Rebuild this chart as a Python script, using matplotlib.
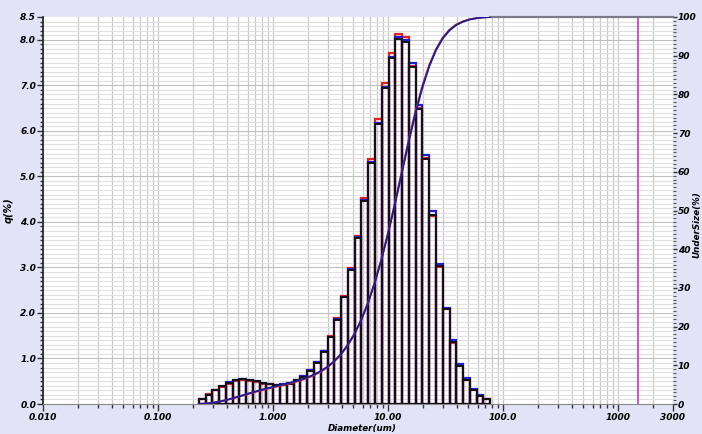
import numpy as np
import matplotlib
matplotlib.use("Agg")
import matplotlib.pyplot as plt
from matplotlib.ticker import FixedLocator, MultipleLocator, NullFormatter

# bin edges (um) and q(%) for the three runs
edges = [0.226, 0.259, 0.296, 0.339, 0.389, 0.445, 0.510, 0.584, 0.669, 0.766,
         0.877, 1.005, 1.151, 1.318, 1.510, 1.729, 1.981, 2.269, 2.599, 2.976,
         3.409, 3.905, 4.472, 5.122, 5.867, 6.720, 7.697, 8.816, 10.097, 11.565,
         13.246, 15.172, 17.377, 19.904, 22.797, 26.111, 29.907, 34.255, 39.234,
         44.938, 51.471, 58.953, 67.523, 77.339]

q_black = [0.10, 0.20, 0.30, 0.39, 0.47, 0.52, 0.54, 0.53, 0.50, 0.47, 0.44,
           0.42, 0.42, 0.45, 0.52, 0.60, 0.73, 0.91, 1.15, 1.47, 1.85, 2.34,
           2.95, 3.64, 4.45, 5.30, 6.15, 6.95,
           7.60, 8.02, 7.96, 7.41, 6.48, 5.38, 4.15, 3.03, 2.08, 1.36, 0.84,
           0.53, 0.31, 0.18, 0.10]
q_red = [0.10, 0.21, 0.31, 0.38, 0.45, 0.50, 0.52, 0.51, 0.48, 0.45, 0.43,
         0.41, 0.42, 0.45, 0.53, 0.61, 0.74, 0.93, 1.17, 1.49, 1.88, 2.37,
         2.99, 3.70, 4.52, 5.38, 6.25, 7.05,
         7.72, 8.12, 8.07, 7.43, 6.50, 5.40, 4.13, 3.02, 2.09, 1.35, 0.83,
         0.52, 0.30, 0.18, 0.10]
q_blue = [0.10, 0.20, 0.31, 0.40, 0.48, 0.53, 0.54, 0.53, 0.50, 0.47, 0.44,
          0.42, 0.43, 0.46, 0.53, 0.61, 0.74, 0.92, 1.16, 1.48, 1.87, 2.36,
          2.97, 3.66, 4.47, 5.32, 6.17, 6.97,
          7.63, 8.05, 8.00, 7.50, 6.57, 5.47, 4.25, 3.08, 2.10, 1.40, 0.87,
          0.57, 0.34, 0.20, 0.11]

x_ticks = [0.01, 0.1, 1, 10, 100, 1000, 3000]
x_labels = ["0.010", "0.100", "1.000", "10.00", "100.0", "1000", "3000"]
y_ticks = [0, 1, 2, 3, 4, 5, 6, 7, 8, 8.5]
y_labels = ["0.0", "1.0", "2.0", "3.0", "4.0", "5.0", "6.0", "7.0", "8.0", "8.5"]
marker_size = 1500  # magenta line

xmin, xmax = 0.01, 3000
bg = "#e3e3f7"
tickfont = dict(fontsize=6.5, fontweight="bold", fontstyle="italic")
labelfont = dict(fontsize=6.3, fontweight="bold", fontstyle="italic")

fig = plt.figure(figsize=(7.02, 4.34), dpi=100, facecolor=bg)
ax = fig.add_axes([43 / 702, 30 / 434, 630 / 702, 387 / 434])
ax.set_facecolor("white")
ax.set_xscale("log")
ax.set_xlim(xmin, xmax)
ax.set_ylim(0, 8.5)

# grid
minor_x = [m * 10.0 ** d for d in range(-2, 4) for m in range(1, 10) if m * 10.0 ** d <= xmax]
for xv in minor_x:
    ax.axvline(xv, color="#c8c8c8", lw=0.9, zorder=0)
for yv in np.arange(0.1, 8.5, 0.1):
    c = "#c0c0c0" if abs(yv - round(yv)) < 1e-6 else "#e0e0e0"
    ax.axhline(yv, color=c, lw=0.8, zorder=0)

left = np.array(edges[:-1])
right = np.array(edges[1:])
widths = right - left

ax.bar(left, q_red, width=widths, align="edge", fill=False, edgecolor="#e8201c", lw=1.6, zorder=2)
ax.bar(left, q_blue, width=widths, align="edge", fill=False, edgecolor="#1f1fd0", lw=1.6, zorder=3)
ax.bar(left, q_black, width=widths, align="edge", fill=False, edgecolor="#111111", lw=1.4, zorder=4)

ax.axvline(marker_size, color="#cc33cc", lw=1.2, zorder=5)

# cumulative undersize on right axis
ax2 = ax.twinx()
ax2.set_ylim(0, 100)
cum_red = np.concatenate([[0], np.cumsum(q_red)]) / np.sum(q_red) * 100
cum_blue = np.concatenate([[0], np.cumsum(q_blue)]) / np.sum(q_blue) * 100
ax2.plot(edges, cum_red, color="#d03030", lw=1.4, zorder=5)
ax2.plot(edges, cum_blue, color="#1c1c9a", lw=1.3, zorder=6)
ax2.plot([edges[-1], xmax], [100, 100], color="#7a7a8a", lw=1.6, clip_on=False)

# axes styling
ax.xaxis.set_major_locator(FixedLocator(x_ticks))
ax.set_xticklabels(x_labels, **tickfont)
ax.xaxis.set_minor_locator(FixedLocator(minor_x))
ax.xaxis.set_minor_formatter(NullFormatter())
ax.tick_params(axis="x", which="major", length=5, width=1, color="#333333", pad=1.5)
ax.tick_params(axis="x", which="minor", length=3, width=1, color="#333333")

ax.set_yticks(y_ticks)
ax.set_yticklabels(y_labels, **tickfont)
ax.yaxis.set_minor_locator(MultipleLocator(0.1))
ax.tick_params(axis="y", which="major", length=4, width=1, color="#333333", pad=1)
ax.tick_params(axis="y", which="minor", length=2, width=1, color="#333333")

ax2.set_yticks(range(0, 101, 10))
ax2.set_yticklabels([str(v) for v in range(0, 101, 10)], **tickfont)
ax2.yaxis.set_minor_locator(MultipleLocator(1))
ax2.tick_params(axis="y", which="major", length=3, width=1, color="#333333", pad=0.5)
ax2.tick_params(axis="y", which="minor", length=2, width=0.8, color="#555555")

for a in (ax, ax2):
    a.spines["top"].set_visible(False)
    a.spines["right"].set_visible(False)
ax.spines["left"].set_color("#222222")
ax.spines["left"].set_linewidth(1.2)
ax.spines["bottom"].set_color("#888888")
ax2.spines["left"].set_visible(False)
ax2.spines["bottom"].set_visible(False)

ax.set_ylabel("q(%)", fontsize=7, fontweight="bold", fontstyle="italic", labelpad=5)
fig.text(697 / 702, 1 - 225 / 434, "UnderSize(%)", rotation=90, ha="center", va="center", **labelfont)
fig.text(362 / 702, 1 - 429 / 434, "Diameter(um)", ha="center", va="center", **labelfont)

fig.savefig("out.png", dpi=100, facecolor=bg)
